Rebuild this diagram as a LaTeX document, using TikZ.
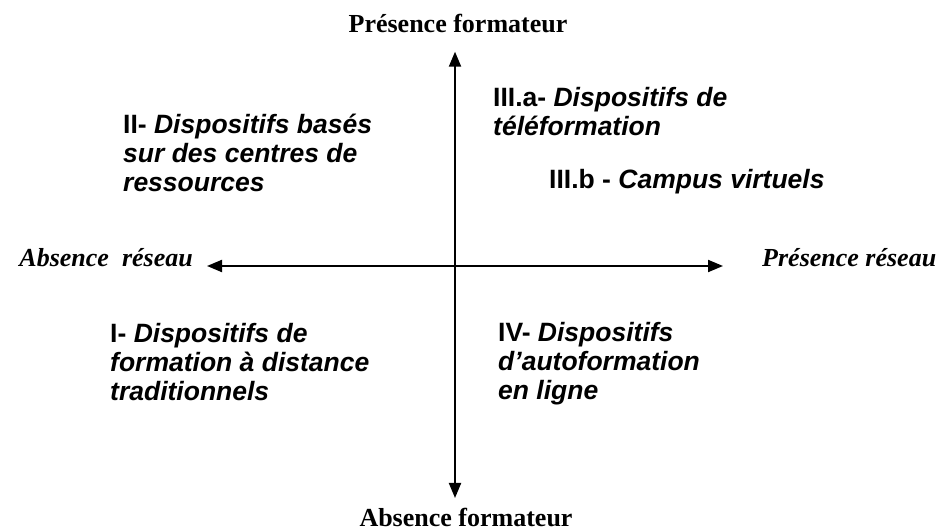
\documentclass[tikz,border=0pt]{standalone}
\usepackage{fontspec}
\setmainfont{Liberation Serif}
\setsansfont{Liberation Sans}[BoldFont={Liberation Sans Bold},BoldItalicFont={Liberation Sans Bold Italic}]
\usetikzlibrary{arrows.meta}
\newcommand\qblock[1]{\vtop{\baselineskip=29pt\lineskiplimit=-100pt\lineskip=0pt #1}}
\newcommand\qit[1]{{\bfseries\itshape #1}}
\begin{document}
\begin{tikzpicture}[x=1pt,y=1pt,
  axis/.style={line width=2pt,{Triangle[length=15pt,width=12pt]}-{Triangle[length=15pt,width=12pt]}},
  quad/.style={anchor=base west,inner sep=0pt,font=\fontsize{26.5}{29}\selectfont\sffamily\bfseries},
  pole/.style={inner sep=0pt,font=\fontsize{26}{30}\selectfont\rmfamily\bfseries},
  polei/.style={pole,font=\fontsize{26}{30}\selectfont\rmfamily\bfseries\itshape}]
\useasboundingbox (0,0) rectangle (936,532);
\coordinate (top) at (455,480.3);
\coordinate (bot) at (455,34);
\coordinate (left) at (207,266);
\coordinate (right) at (723,266);
\draw[axis] (bot) -- (top);
\draw[axis] (left) -- (right);
\node[pole,anchor=base] (pf) at (458,499) {Présence formateur};
\node[pole,anchor=base] (af) at (466,5.3) {Absence formateur};
\node[polei,anchor=base east] (ar) at (193,265) {Absence\ \ réseau};
\node[polei,anchor=base west] (pr) at (762,265) {Présence réseau};
\node[quad] (q2) at (123,398) {\qblock{\hbox{II- \qit{Dispositifs basés}}\hbox{\qit{sur des centres de}}\hbox{\qit{ressources}}}};
\node[quad] (q3a) at (493,425.3) {\qblock{\hbox{III.a- \qit{Dispositifs de}}\hbox{\qit{téléformation}}}};
\node[quad] (q3b) at (549,343.7) {III.b - \qit{Campus virtuels}};
\node[quad] (q1) at (110,189) {\qblock{\hbox{I- \qit{Dispositifs de}}\hbox{\qit{formation à distance}}\hbox{\qit{traditionnels}}}};
\node[quad] (q4) at (498,190.3) {\qblock{\hbox{IV- \qit{Dispositifs}}\hbox{\qit{d’autoformation}}\hbox{\qit{en ligne}}}};
\end{tikzpicture}
\end{document}
